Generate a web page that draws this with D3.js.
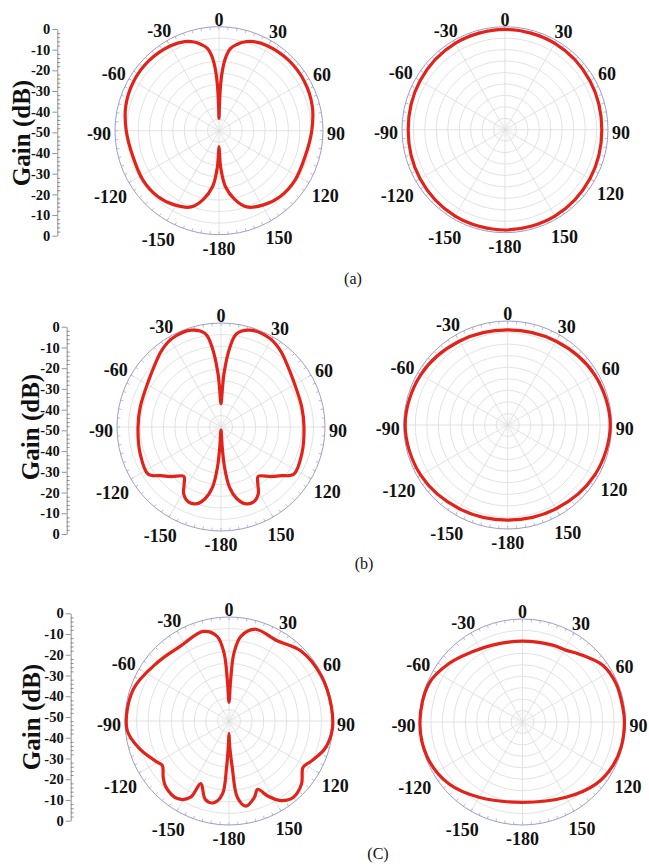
<!DOCTYPE html>
<html>
<head>
<meta charset="utf-8">
<script src="https://d3js.org/d3.v7.min.js"></script>
<style>
  body { margin: 0; background: #fff; }
  svg { display: block; }
  text { font-family: "Liberation Serif", "Times New Roman", serif; }
  .grid { fill: none; stroke: #dadada; stroke-width: 0.8px; }
  .fine { fill: none; stroke: #e6e6e6; stroke-width: 0.5px; }
  .rim { fill: none; stroke: #9d9dca; stroke-width: 1px; }
  .rimtick { stroke: #a9a9cf; stroke-width: 0.8px; }
  .pattern { fill: none; stroke: #e2231a; stroke-width: 3.2px; stroke-linejoin: round; }
  .alabel { font-size: 18px; font-weight: bold; fill: #111; }
  .gaxis path, .gaxis line { stroke: #777; stroke-width: 0.8px; }
  .gtitle { font-size: 25px; font-weight: bold; fill: #111; }
  .caption { font-size: 16px; fill: #111; }
</style>
</head>
<body>
<div id="chart"></div>

<script>
// radiation patterns, [angle in degrees (0 = top, clockwise), gain in dB]
const aLeft = [[-180,-42.3],[-178.5,-38],[-177.5,-32.7],[-173.5,-23],[-167,-16],[-160,-11],[-149,-8.4],
  [-137,-6.8],[-123,-6.4],[-107,-6.8],[-90,-5.4],[-75,-3.6],[-60,-2.6],[-45,-2.4],[-30,-3],[-21,-4.1],
  [-15,-6],[-12,-7.5],[-8,-10],[-5.5,-14],[-3.5,-20],[-2,-28],[-1,-38],[0,-44],[1,-38],[2,-28],[3.5,-20],
  [5.5,-14],[8,-10],[12,-7.5],[15,-6],[21,-4.1],[30,-3],[45,-2.4],[60,-2.6],[75,-3.6],[90,-5.4],
  [107,-6.8],[123,-6.4],[137,-6.8],[149,-8.4],[160,-11],[167,-16],[173.5,-23],[177.5,-32.7],[178.5,-38]];

const aRight = [[-180,-1.3],[-150,-1.6],[-120,-2.4],[-90,-3],[-60,-2.4],[-30,-1.6],[0,-1.3],[30,-1.6],
  [60,-2.4],[90,-3],[120,-2.4],[150,-1.6]];

const bLeft = [[-180,-48.5],[-176.5,-40.4],[-175,-30.7],[-172,-20.8],[-167.6,-14.8],[-162.6,-11.4],
  [-156.7,-10.7],[-150.7,-13.3],[-147,-17.5],[-143,-20.3],[-135,-16.3],[-129,-12.8],[-123,-8.3],[-108,-9.1],
  [-90,-10.1],[-76,-10],[-57,-8.6],[-46,-6.1],[-38,-3.5],[-29,-1.4],[-17,-1.3],[-9.5,-4.5],[-6.4,-11.3],
  [-3.2,-24.3],[-2,-32.4],[0,-38.8],[2,-32.4],[3.2,-24.3],[6.4,-11.3],[9.5,-4.5],[17,-1.3],[29,-1.4],
  [38,-3.5],[46,-6.1],[57,-8.6],[76,-10],[90,-10.1],[108,-9.1],[123,-8.3],[129,-12.8],[135,-16.3],
  [143,-20.3],[147,-17.5],[150.7,-13.3],[156.7,-10.7],[162.6,-11.4],[167.6,-14.8],[172,-20.8],
  [175,-30.7],[176.5,-40.4]];

const bRight = [[-180,-4.3],[-150,-3.5],[-120,-1.7],[-90,-0.7],[-60,-1.7],[-30,-3.5],[0,-4.3],[30,-3.5],
  [60,-1.7],[90,-0.7],[120,-1.7],[150,-3.5]];

const cLeft = [[-180,-43.9],[-178.5,-38],[-177,-27.7],[-174.8,-14.6],[-169.5,-10],[-163.3,-10.5],
  [-155.7,-17],[-153.3,-9],[-146.4,-5.2],[-136.2,-6.1],[-130.7,-8.3],[-123.6,-11.5],[-120,-10.3],
  [-108,-5.3],[-95,-0.8],[-72,-1.5],[-51,-5.5],[-33,-7.1],[-16,-5.2],[-8,-8.9],[-4.2,-17.2],[-2.3,-30.3],
  [0,-41],[2.3,-30.3],[4.2,-17.2],[8,-8.9],[16,-4.1],[31,-5],[46,-1.7],[64,-0.6],[82,-0.3],[95,-0.2],
  [106,-2],[116,-6],[122,-8],[131,-3.8],[140,-2],[147,-4.4],[152.7,-9.4],[157.2,-14.4],[161.8,-11.2],
  [168.8,-8.3],[173.7,-13],[176,-27.7],[178.5,-38]];

const cRight = [[-180,-11],[-150,-7.8],[-130,-3.3],[-110,-0.7],[-90,-0.2],[-67.7,-0.9],[-51.5,-4.4],
  [-35.5,-8.1],[-21.4,-9.9],[0,-10.7],[21.4,-9.9],[31,-9.3],[40,-7],[54.7,-2.3],[67.7,-0.9],[81.5,-0.8],
  [90,-0.5],[104,-0.6],[115.7,-1.3],[130,-3.3],[150,-7.8]];

const angleLabels = [0, 30, 60, 90, 120, 150, -180, -150, -120, -90, -60, -30];
const gainTickLabels = ["0", "-10", "-20", "-30", "-40", "-50", "-40", "-30", "-20", "-10", "0"];
const gainDomain = [-50, 0];
const ringCount = 9;
const captions = ["(a)", "(b)", "(C)"];

const width = 649, height = 864;
const svg = d3.select("#chart").append("svg").attr("width", width).attr("height", height);

const panels = [
  { data: aLeft,  cx: 219,   cy: 130.7, R: 104 },
  { data: aRight, cx: 505,   cy: 129.7, R: 103 },
  { data: bLeft,  cx: 221,   cy: 427,   R: 104 },
  { data: bRight, cx: 507.7, cy: 425,   R: 104 },
  { data: cLeft,  cx: 229,   cy: 721,   R: 104 },
  { data: cRight, cx: 522.5, cy: 722,   R: 103 }
];

const rows = [
  { top: 29,    bottom: 235.7, x: 57.3, tx: 23,  ty: 133,   capX: 353, capY: 284 },
  { top: 326.7, bottom: 534,   x: 66.7, tx: 32,  ty: 427,   capX: 364, capY: 569 },
  { top: 613.3, bottom: 820.7, x: 70.7, tx: 33,  ty: 717,   capX: 378, capY: 859 }
];

const rad = d => d * Math.PI / 180;

function drawPanel(p) {
  const g = svg.append("g").attr("transform", `translate(${p.cx},${p.cy})`);
  const r = d3.scaleLinear().domain(gainDomain).range([0, p.R]);
  const step = p.R / ringCount;

  // rings
  g.selectAll("circle.grid").data(d3.range(1, ringCount))
    .enter().append("circle").attr("class", "grid").attr("r", k => k * step);

  // fine spokes near the centre, main spokes every 30 deg
  g.selectAll("line.inner").data(d3.range(0, 360, 15).filter(a => a % 30 !== 0))
    .enter().append("line").attr("class", "fine")
    .attr("x1", a => 3 * Math.sin(rad(a))).attr("y1", a => -3 * Math.cos(rad(a)))
    .attr("x2", a => step * Math.sin(rad(a))).attr("y2", a => -step * Math.cos(rad(a)));
  g.selectAll("line.spoke").data(d3.range(0, 360, 30))
    .enter().append("line").attr("class", "grid")
    .attr("x2", a => p.R * Math.sin(rad(a))).attr("y2", a => -p.R * Math.cos(rad(a)));

  // outer rim with small ticks
  g.append("circle").attr("class", "rim").attr("r", p.R);
  g.selectAll("line.rimtick").data(d3.range(0, 360, 5))
    .enter().append("line").attr("class", "rimtick")
    .attr("x1", a => (p.R - 3) * Math.sin(rad(a))).attr("y1", a => -(p.R - 3) * Math.cos(rad(a)))
    .attr("x2", a => p.R * Math.sin(rad(a))).attr("y2", a => -p.R * Math.cos(rad(a)));

  // pattern
  const line = d3.lineRadial()
    .angle(d => rad(d[0]))
    .radius(d => r(d[1]))
    .curve(d3.curveCatmullRomClosed.alpha(0.5));
  g.append("path").attr("class", "pattern").attr("d", line(p.data));

  // angle labels
  angleLabels.forEach(a => {
    const t = g.append("text").attr("class", "alabel").attr("text-anchor", "middle").text(a);
    const w = t.node().getComputedTextLength();
    const h = 12.5;
    const s = Math.sin(rad(a)), c = Math.cos(rad(a));
    const dist = p.R + 4 + Math.abs(s) * w / 2 + Math.abs(c) * h / 2;
    t.attr("x", dist * s).attr("y", -dist * c + 9.7);
  });
}

panels.forEach(drawPanel);

// gain scale on the left of every row
rows.forEach((row, i) => {
  const y = d3.scaleLinear().domain([0, 100]).range([row.top, row.bottom]);
  const ax = svg.append("g").attr("class", "gaxis").attr("transform", `translate(${row.x},0)`)
    .call(d3.axisLeft(y).tickValues(d3.range(0, 101, 10))
      .tickFormat((d, j) => gainTickLabels[j]).tickSize(5).tickSizeOuter(0).tickPadding(2));
  ax.selectAll("text")
    .style("font-family", "'Liberation Serif', 'Times New Roman', serif")
    .style("font-size", "14.5px").style("font-weight", "bold").style("fill", "#111");
  svg.append("g").attr("class", "gaxis").attr("transform", `translate(${row.x},0)`)
    .call(d3.axisRight(y).tickValues(d3.range(0, 101, 2).filter(v => v % 10 !== 0))
      .tickFormat("").tickSize(3).tickSizeOuter(0))
    .select(".domain").remove();

  svg.append("text").attr("class", "gtitle")
    .attr("transform", `translate(${row.tx + 7},${row.ty}) rotate(-90)`)
    .attr("text-anchor", "middle").text("Gain (dB)");

  svg.append("text").attr("class", "caption")
    .attr("x", row.capX).attr("y", row.capY).attr("text-anchor", "middle").text(captions[i]);
});
</script>
</body>
</html>
